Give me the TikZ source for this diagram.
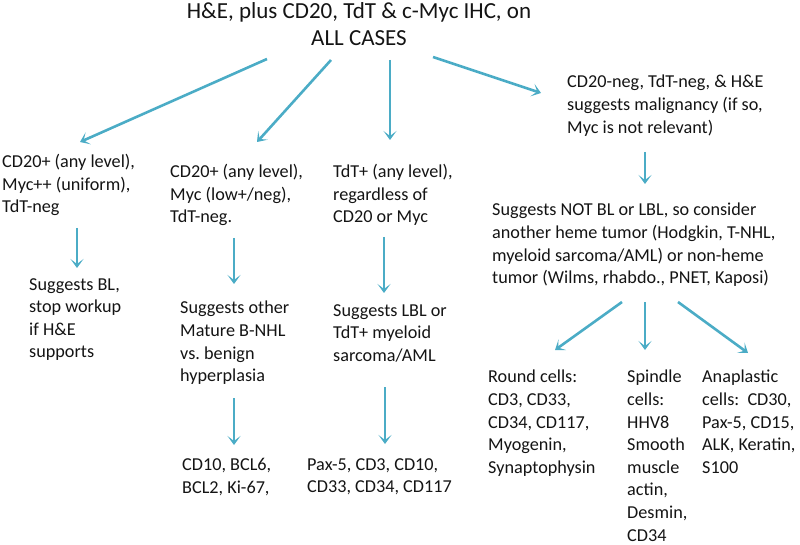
\documentclass[tikz,border=0pt]{standalone}
\usepackage{fontspec}
\setmainfont{Carlito}
\usetikzlibrary{arrows.meta}
\definecolor{arrowblue}{RGB}{75,172,198}
\definecolor{txt}{RGB}{20,20,20}
\frenchspacing
\tikzset{
  body/.style={anchor=north west, align=left, inner sep=0pt, text=txt,
    font=\fontsize{18.2}{22.6}\selectfont\frenchspacing},
  titletext/.style={anchor=north, align=center, inner sep=0pt, text=txt,
    font=\fontsize{23}{27}\selectfont},
  arr/.style={draw=arrowblue, line width=2.6pt,
    -{Stealth[length=9pt,width=13pt,inset=5pt]}}
}
\begin{document}
\begin{tikzpicture}[x=1pt,y=-1pt]
\useasboundingbox (0,0) rectangle (800,545);
% nodes
\node[titletext] (title) at (359,2) {H\&E, plus CD20, TdT \& c-Myc IHC, on\\ALL CASES};
\node[body] (a) at (2,154) {CD20+ (any level),\\Myc++ (uniform),\\TdT-neg};
\node[body] (b) at (170,164) {CD20+ (any level),\\Myc (low+/neg),\\TdT-neg.};
\node[body] (c) at (333,164) {TdT+ (any level),\\regardless of\\CD20 or Myc};
\node[body] (d) at (567,75) {CD20-neg, TdT-neg, \& H\&E\\suggests malignancy (if so,\\Myc is not relevant)};
\node[body] (a2) at (29,278) {Suggests BL,\\stop workup\\if H\&E\\supports};
\node[body] (b2) at (180,301) {Suggests other\\Mature B-NHL\\vs. benign\\hyperplasia};
\node[body] (c2) at (333,304) {Suggests LBL or\\TdT+ myeloid\\sarcoma/AML};
\node[body] (b3) at (182,458) {CD10, BCL6,\\BCL2, Ki-67,};
\node[body] (c3) at (307,458) {Pax-5, CD3, CD10,\\CD33, CD34, CD117};
\node[body] (e) at (492,203) {Suggests NOT BL or LBL, so consider\\another heme tumor (Hodgkin, T-NHL,\\myeloid sarcoma/AML) or non-heme\\tumor (Wilms, rhabdo., PNET, Kaposi)};
\node[body] (r) at (488,370) {Round cells:\\CD3, CD33,\\CD34, CD117,\\Myogenin,\\Synaptophysin};
\node[body] (s) at (627,370) {Spindle\\cells:\\HHV8\\Smooth\\muscle\\actin,\\Desmin,\\CD34};
\node[body] (an) at (702,370) {Anaplastic\\cells:\ \ CD30,\\Pax-5, CD15,\\ALK, Keratin,\\S100};
% arrow end points
\coordinate (t1) at (267,59);  \coordinate (h1) at (80,142);
\coordinate (t2) at (331,60);  \coordinate (h2) at (257,142);
\coordinate (t3) at (390,60);  \coordinate (h3) at (390,140);
\coordinate (t4) at (433,57);  \coordinate (h4) at (541,93);
\coordinate (ta) at (77,228);  \coordinate (ha) at (77,268);
\coordinate (tb) at (234,238); \coordinate (hb) at (234,284);
\coordinate (tc) at (384,237); \coordinate (hc) at (384,293);
\coordinate (tb2) at (234,398); \coordinate (hb2) at (234,445);
\coordinate (tc2) at (385,387); \coordinate (hc2) at (385,444);
\coordinate (td) at (645,152); \coordinate (hd) at (645,184);
\coordinate (te1) at (622,302); \coordinate (he1) at (555,350);
\coordinate (te2) at (645,302); \coordinate (he2) at (645,350);
\coordinate (te3) at (678,302); \coordinate (he3) at (748,353);
% connectors
\draw[arr] (t1) -- (h1);
\draw[arr] (t2) -- (h2);
\draw[arr] (t3) -- (h3);
\draw[arr] (t4) -- (h4);
\draw[arr] (ta) -- (ha);
\draw[arr] (tb) -- (hb);
\draw[arr] (tc) -- (hc);
\draw[arr] (tb2) -- (hb2);
\draw[arr] (tc2) -- (hc2);
\draw[arr] (td) -- (hd);
\draw[arr] (te1) -- (he1);
\draw[arr] (te2) -- (he2);
\draw[arr] (te3) -- (he3);
\end{tikzpicture}
\end{document}
